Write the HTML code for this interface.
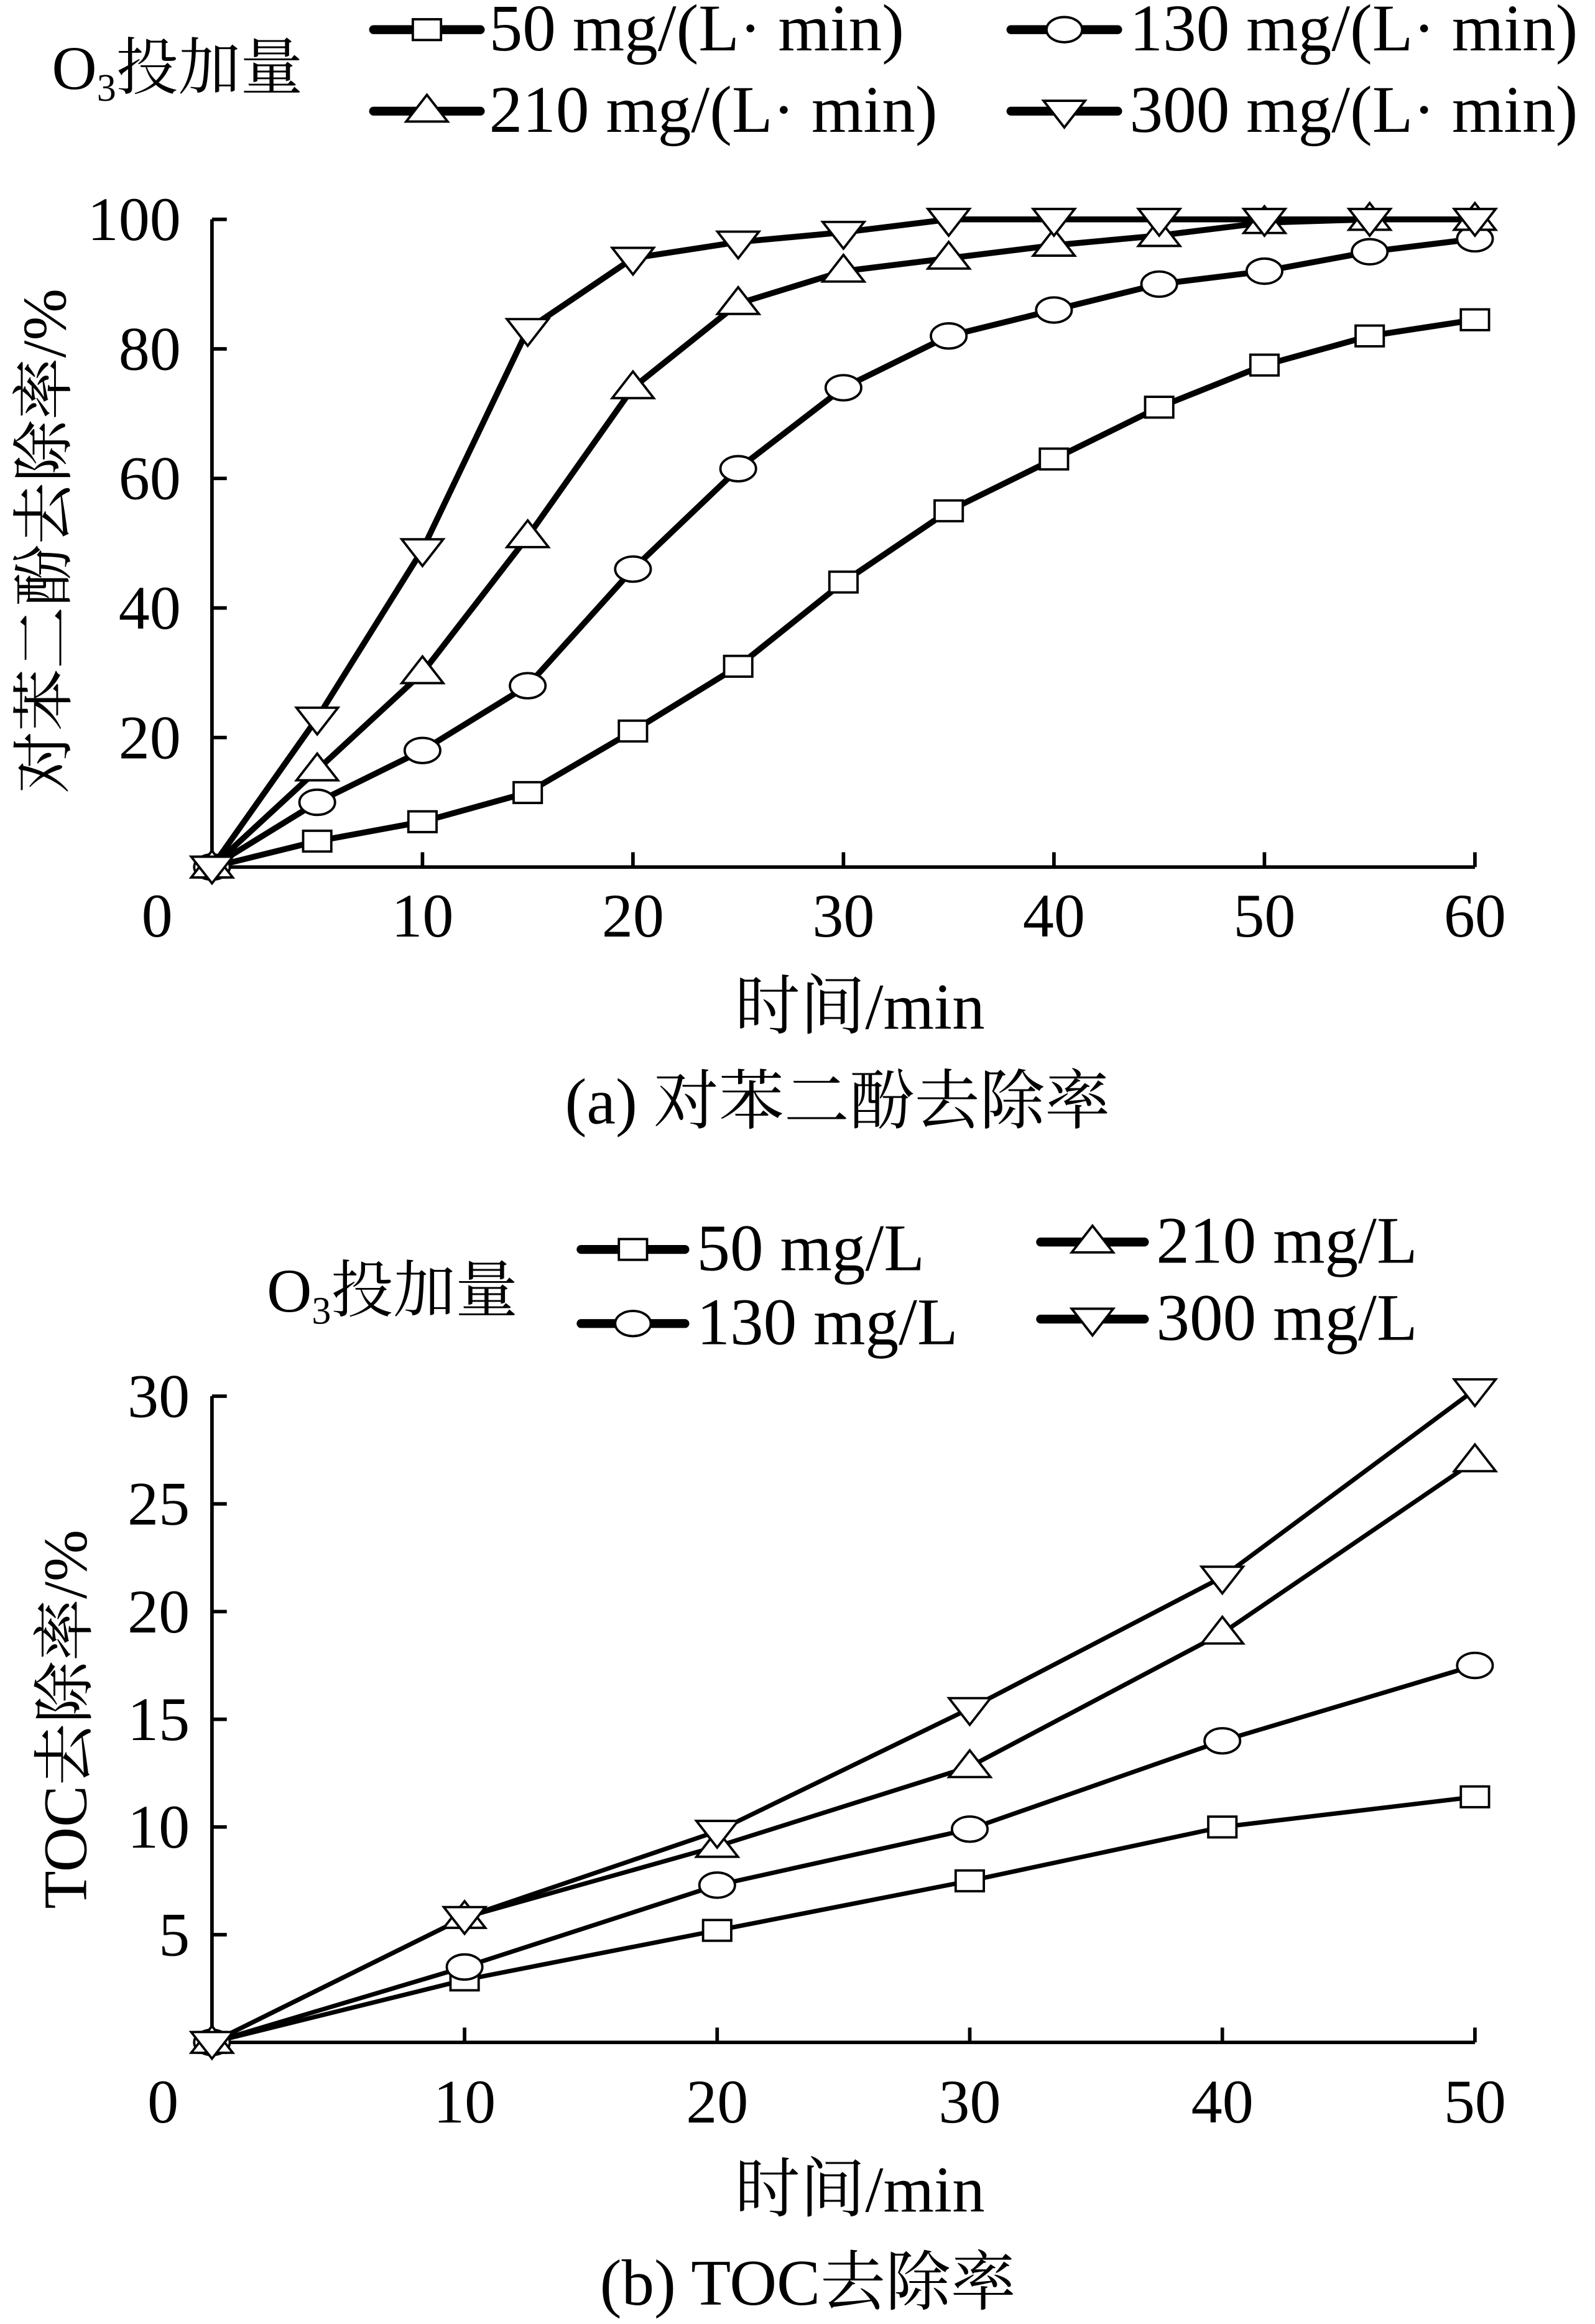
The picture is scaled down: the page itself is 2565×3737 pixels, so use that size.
<!DOCTYPE html>
<html><head><meta charset="utf-8"><style>html,body{margin:0;padding:0;background:#fff}svg{display:block}</style></head>
<body>
<svg xmlns="http://www.w3.org/2000/svg" width="2565" height="3737" viewBox="0 0 1076 1568" preserveAspectRatio="none" font-family="'Liberation Serif','Noto Serif CJK SC',serif" fill="#000">
<defs>
<g id="sq"><rect x="-9.5" y="-7" width="19" height="14" fill="#fff" stroke="#000" stroke-width="1.6"/></g>
<g id="ci"><ellipse rx="12" ry="8.5" fill="#fff" stroke="#000" stroke-width="1.6"/></g>
<g id="tu"><polygon points="0,-11 14,7 -14,7" fill="#fff" stroke="#000" stroke-width="1.6"/></g>
<g id="td"><polygon points="0,11 14,-7 -14,-7" fill="#fff" stroke="#000" stroke-width="1.6"/></g>
</defs>
<g id="content"></g>
<script><![CDATA[
var ns="http://www.w3.org/2000/svg",C=document.getElementById('content');
function el(n,a,p){var e=document.createElementNS(ns,n);for(var k in a)e.setAttribute(k,a[k]);(p||C).appendChild(e);return e;}
function txt(s,x,y,sz,anchor,extra){var a={x:x,y:y,'font-size':sz,'text-anchor':anchor||'start'};for(var k in extra)a[k]=extra[k];var t=el('text',a);t.textContent=s;return t;}
function use(id,x,y){el('use',{href:'#'+id,x:x,y:y});}
function line(pts,w){el('polyline',{points:pts.map(function(p){return p[0]+','+p[1]}).join(' '),fill:'none',stroke:'#000','stroke-width':w,'stroke-linejoin':'round'});}
// ---- chart a
var ax0=143,ax1=995,ay0=585,ay1=148;
function XA(v){return ax0+(ax1-ax0)*v/60}function YA(v){return ay0-(ay0-ay1)*v/100}
el('path',{d:'M'+ax0+','+ay1+'V'+ay0+'H'+ax1,fill:'none',stroke:'#000','stroke-width':2.4});
for(var v=20;v<=100;v+=20){el('line',{x1:ax0,x2:ax0+10,y1:YA(v),y2:YA(v),stroke:'#000','stroke-width':2.4});txt(String(v),122,YA(v)+14,42,'end');}
for(var v=10;v<=60;v+=10){el('line',{x1:XA(v),x2:XA(v),y1:ay0,y2:ay0-10,stroke:'#000','stroke-width':2.4});txt(String(v),XA(v),632,42,'middle');}
txt('0',106,632,42,'middle');
var xs=[0,5,10,15,20,25,30,35,40,45,50,55,60];
var da={sq:[0,4,7,11.5,21,31,44,55,63,71,77.5,82,84.5],ci:[0,10,18,28,46,61.5,74,82,86,90,92,95,97],tu:[0,15,30,51,74,87,92,94,96,97.5,99.5,100,100],td:[0,23,49,83,94,96.5,98,100,100,100,100,100,100]};
['sq','ci','tu','td'].forEach(function(k){line(xs.map(function(x,i){return [XA(x),YA(da[k][i])]}),4);});
['sq','ci','tu','td'].forEach(function(k){xs.forEach(function(x,i){use(k,XA(x),YA(da[k][i]));});});
txt('对苯二酚去除率/%',0,0,42,'middle',{transform:'translate(44,365) rotate(-90)'});
txt('时间/min',580,694,44,'middle');
txt('(a) 对苯二酚去除率',565,758,44,'middle');
// legend a
function O3(x,y){var t=txt('O',x,y,42,'start');var s=el('tspan',{'font-size':26,dy:8});s.textContent='3';t.appendChild(s);var s2=el('tspan',{dy:-8});s2.textContent='投加量';t.appendChild(s2);}
O3(35,60);
function leg(x1,x2,y,k,s,tx){el('line',{x1:x1,x2:x2,y1:y,y2:y,stroke:'#000','stroke-width':6,'stroke-linecap':'round'});use(k,(x1+x2)/2,y);txt(s,tx,y+14,45,'start');}
leg(252,324,20,'sq','50 mg/(L· min)',330);
leg(682,754,20,'ci','130 mg/(L· min)',762);
leg(252,324,75,'tu','210 mg/(L· min)',330);
leg(682,754,75,'td','300 mg/(L· min)',762);
// ---- chart b
var bx0=143,bx1=995,by0=1378,by1=942;
function XB(v){return bx0+(bx1-bx0)*v/50}function YB(v){return by0-(by0-by1)*v/30}
el('path',{d:'M'+bx0+','+by1+'V'+by0+'H'+bx1,fill:'none',stroke:'#000','stroke-width':2.4});
for(var v=5;v<=30;v+=5){el('line',{x1:bx0,x2:bx0+10,y1:YB(v),y2:YB(v),stroke:'#000','stroke-width':2.4});txt(String(v),128,YB(v)+14,42,'end');}
for(var v=10;v<=50;v+=10){el('line',{x1:XB(v),x2:XB(v),y1:by0,y2:by0-10,stroke:'#000','stroke-width':2.4});txt(String(v),XB(v),1432,42,'middle');}
txt('0',110,1432,42,'middle');
var xb=[0,10,20,30,40,50];
var db={sq:[0,2.9,5.2,7.5,10,11.4],ci:[0,3.5,7.3,9.9,14,17.5],tu:[0,5.8,9.1,12.8,19,27],td:[0,5.8,9.8,15.5,21.6,30.3]};
['sq','ci','tu','td'].forEach(function(k){line(xb.map(function(x,i){return [XB(x),YB(db[k][i])]}),3);});
['sq','ci','tu','td'].forEach(function(k){xb.forEach(function(x,i){use(k,XB(x),YB(db[k][i]));});});
txt('TOC去除率/%',0,0,42,'middle',{transform:'translate(58,1160) rotate(-90)'});
txt('时间/min',580,1492,44,'middle');
txt('(b) TOC去除率',545,1555,44,'middle');
O3(180,885);
leg(392,462,843,'sq','50 mg/L',470);
leg(392,462,893,'ci','130 mg/L',470);
leg(702,772,838,'tu','210 mg/L',780);
leg(702,772,890,'td','300 mg/L',780);
]]></script>
</svg>
</body></html>
